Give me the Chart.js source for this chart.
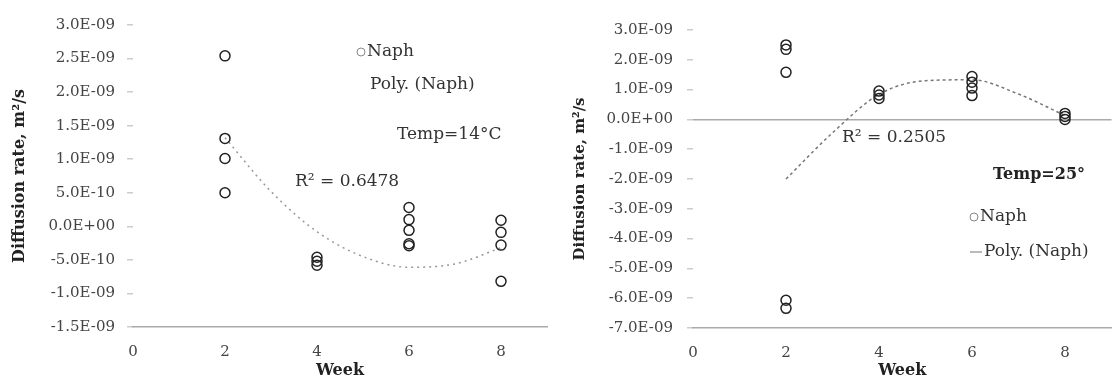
<!DOCTYPE html>
<html><head><meta charset="utf-8">
<script src="https://cdn.jsdelivr.net/npm/chart.js@4.4.1/dist/chart.umd.min.js"></script>
<style>
html,body{margin:0;padding:0;background:#fff;overflow:hidden;width:1112px;height:383px;}
#w1{position:absolute;left:0;top:0;width:556px;height:383px;}
#w2{position:absolute;left:556px;top:0;width:562px;height:383px;}
</style></head><body>
<div id="w1"><canvas id="c1"></canvas></div>
<div id="w2"><canvas id="c2"></canvas></div>
<script>
// ---- data: Temp = 14 °C ----
const weeks14 = [2,2,2,2, 4,4,4, 6,6,6,6,6, 8,8,8,8];
const naph14  = [2.54e-9,1.31e-9,1.01e-9,0.50e-9, -4.6e-10,-5.2e-10,-5.8e-10, 2.8e-10,1.0e-10,-0.6e-10,-2.6e-10,-2.9e-10, 0.9e-10,-0.9e-10,-2.8e-10,-8.2e-10];
const trendWeeks14 = [2,3,4,5,6,7,8];
const trend14 = [1.32e-9,0.52e-9,-0.08e-9,-0.45e-9,-0.61e-9,-0.56e-9,-0.32e-9];
const yTicks14 = [3e-9,2.5e-9,2e-9,1.5e-9,1e-9,5e-10,0,-5e-10,-1e-9,-1.5e-9];
// ---- data: Temp = 25 °C ----
const weeks25 = [2,2,2,2,2, 4,4,4, 6,6,6,6, 8,8,8];
const naph25  = [2.5e-9,2.35e-9,1.58e-9,-6.07e-9,-6.34e-9, 0.95e-9,0.82e-9,0.7e-9, 1.44e-9,1.25e-9,1.05e-9,0.8e-9, 0.2e-9,0.1e-9,0.0];
const trendWeeks25 = [2,3,4,5,6,7,8];
const trend25 = [-2.0e-9,-0.45e-9,0.84e-9,1.3e-9,1.33e-9,0.85e-9,0.13e-9];
const yTicks25 = [3e-9,2e-9,1e-9,0,-1e-9,-2e-9,-3e-9,-4e-9,-5e-9,-6e-9,-7e-9];
const xTicks = [0,2,4,6,8];

const FAM = "'DejaVu Serif', serif";
function sci(v){
  if (Math.abs(v) < 1e-20) return '0.0E+00';
  let e = Math.floor(Math.log10(Math.abs(v)) + 1e-9);
  let m = Math.round(v / Math.pow(10, e) * 10) / 10;
  if (Math.abs(m) >= 10) { m = m / 10; e += 1; }
  return m.toFixed(1) + 'E' + (e < 0 ? '-' : '+') + String(Math.abs(e)).padStart(2, '0');
}
const pts = (xs, ys) => xs.map((x, i) => ({x: x, y: ys[i]}));

const textPlugin = {
  id: 'texts',
  afterDraw(chart, args, opts) {
    const ctx = chart.ctx;
    ctx.save();
    (opts.items || []).forEach(it => {
      ctx.font = (it.bold ? 'bold ' : '') + it.size + 'px ' + FAM;
      ctx.fillStyle = it.color || '#333';
      ctx.textBaseline = 'middle';
      ctx.textAlign = 'left';
      let x = it.x;
      if (it.marker === 'circle') {
        ctx.beginPath(); ctx.strokeStyle = '#888'; ctx.lineWidth = 1;
        ctx.arc(x + 4, it.y, 4, 0, Math.PI * 2); ctx.stroke();
        x += 10;
      } else if (it.marker === 'line') {
        ctx.beginPath(); ctx.strokeStyle = '#777'; ctx.lineWidth = 1;
        ctx.moveTo(x, it.y); ctx.lineTo(x + 12, it.y); ctx.stroke();
        x += 14;
      }
      ctx.fillText(it.text, x, it.y);
    });
    ctx.restore();
  }
};

function makeChart(id, cfg) {
  return new Chart(document.getElementById(id), {
    type: 'scatter',
    data: {
      datasets: [
        { label: 'Poly. (Naph)', type: 'line', data: pts(cfg.tw, cfg.ty), borderColor: cfg.trendColor,
          borderWidth: 1.5, borderDash: cfg.dash, pointRadius: 0, fill: false,
          cubicInterpolationMode: 'monotone', order: 2 },
        { label: 'Naph', data: pts(cfg.wx, cfg.wy), pointStyle: 'circle', pointRadius: 5,
          borderColor: '#222', borderWidth: 1.5, backgroundColor: 'rgba(0,0,0,0)', order: 1 }
      ]
    },
    options: {
      responsive: true, maintainAspectRatio: false, animation: false,
      layout: { padding: { top: cfg.top, right: cfg.right, left: 0, bottom: 0 } },
      plugins: { legend: { display: false }, tooltip: { enabled: false },
                 texts: { items: cfg.texts } },
      scales: {
        x: {
          type: 'linear', min: 0, max: 9,
          afterBuildTicks: s => { s.ticks = xTicks.map(v => ({value: v})); },
          ticks: { font: { family: FAM, size: 15 }, color: '#444', padding: 16, maxRotation: 0 },
          grid: { display: false, drawTicks: false },
          border: { display: true, color: '#aaa', width: 1.5 },
          title: { display: true, text: 'Week', color: '#222', font: { family: FAM, size: 16, weight: 'bold' },
                   padding: { top: 0, bottom: 3 } },
          afterFit: s => { s.height = cfg.xh; }
        },
        y: {
          min: cfg.ymin, max: cfg.ymax,
          afterBuildTicks: s => { s.ticks = cfg.yt.map(v => ({value: v})); },
          ticks: { callback: v => sci(v), font: { family: FAM, size: 15 }, color: '#444', padding: cfg.ypad },
          grid: { drawOnChartArea: cfg.zeroLine, tickLength: 6, tickColor: '#ccc',
                  color: c => (cfg.zeroLine && c.tick && Math.abs(c.tick.value) < 1e-20) ? '#aaa' : 'rgba(0,0,0,0)',
                  lineWidth: 1.5 },
          border: { display: false },
          title: { display: true, text: 'Diffusion rate, m²/s', color: '#222',
                   font: { family: FAM, size: cfg.ytSize, weight: 'bold' }, padding: { top: cfg.ytPad, bottom: 0 } },
          afterFit: s => { s.width = cfg.yw; }
        }
      }
    },
    plugins: [textPlugin]
  });
}

makeChart('c1', {
  wx: weeks14, wy: naph14, tw: trendWeeks14, ty: trend14, yt: yTicks14,
  ymin: -1.5e-9, ymax: 3e-9, top: 25, right: 9, xh: 56, yw: 133, ypad: 12,
  ytSize: 16, ytPad: 10, zeroLine: false, trendColor: '#999', dash: [2, 4],
  texts: [
    { text: 'Naph', x: 357, y: 52, size: 17, marker: 'circle' },
    { text: 'Poly. (Naph)', x: 370, y: 85, size: 17 },
    { text: 'Temp=14°C', x: 397, y: 135, size: 17 },
    { text: 'R² = 0.6478', x: 295, y: 182, size: 17 }
  ]
});

makeChart('c2', {
  wx: weeks25, wy: naph25, tw: trendWeeks25, ty: trend25, yt: yTicks25,
  ymin: -7e-9, ymax: 3e-9, top: 30, right: 1, xh: 55, yw: 137, ypad: 14,
  ytSize: 15, ytPad: 15, zeroLine: true, trendColor: '#777', dash: [3, 3],
  texts: [
    { text: 'Temp=25°', x: 437, y: 175, size: 16, bold: true, color: '#222' },
    { text: 'R² = 0.2505', x: 286, y: 138, size: 17 },
    { text: 'Naph', x: 414, y: 217, size: 17, marker: 'circle' },
    { text: 'Poly. (Naph)', x: 414, y: 252, size: 17, marker: 'line' }
  ]
});
</script>
</body></html>
